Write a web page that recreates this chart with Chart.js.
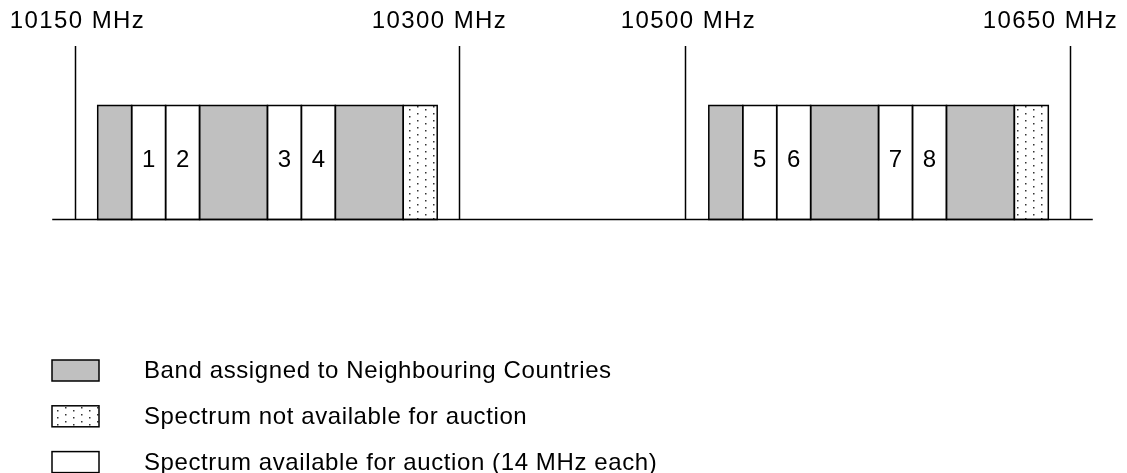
<!DOCTYPE html>
<html>
<head>
<meta charset="utf-8">
<script src="https://cdn.jsdelivr.net/npm/chart.js@4/dist/chart.umd.min.js"></script>
<style>
  html, body { margin: 0; padding: 0; background: #fff; }
  #wrap { width: 1127px; height: 473px; }
</style>
</head>
<body>
<div id="wrap"><canvas id="spectrum" width="1127" height="473"></canvas></div>
<script>
// x values are in "slots": one slot = one 14 MHz block (the drawing is schematic)
const blockStart = [0, 1, 2, 3, 5, 6, 7, 9, 18, 19, 20, 21, 23, 24, 25, 27];
const blockEnd   = [1, 2, 3, 5, 6, 7, 9, 10, 19, 20, 21, 23, 24, 25, 27, 28];
const blockType  = ['neighbour', 'auction', 'auction', 'neighbour', 'auction', 'auction', 'neighbour', 'reserved',
                    'neighbour', 'auction', 'auction', 'neighbour', 'auction', 'auction', 'neighbour', 'reserved'];
const blockLabel = ['', '1', '2', '', '3', '4', '', '', '', '5', '6', '', '7', '8', '', ''];

const markerPos   = [-0.67, 10.65, 17.3, 28.64];
const markerLabel = ['10150 MHz', '10300 MHz', '10500 MHz', '10650 MHz'];
const baselineFrom = -1.34, baselineTo = 29.31;

const legendTypes = ['neighbour', 'reserved', 'auction'];
const legendLabel = ['Band assigned to Neighbouring Countries',
                     'Spectrum not available for auction',
                     'Spectrum available for auction (14 MHz each)'];

const FONT = '"Liberation Sans", Arial, Helvetica, sans-serif';
// label nudges in px (the labels are not all centred on their line)
const labelShift = [2, -20, 3, -20];

function dotPattern(ctx) {
  const c = document.createElement('canvas');
  c.width = 16; c.height = 14;
  const g = c.getContext('2d');
  g.fillStyle = '#fff';
  g.fillRect(0, 0, 16, 14);
  g.fillStyle = '#333';
  g.fillRect(1, 1, 1.5, 1.5);
  g.fillRect(1, 8, 1.5, 1.5);
  g.fillRect(9, 4, 1.5, 1.5);
  g.fillRect(9, 11, 1.5, 1.5);
  return ctx.createPattern(c, 'repeat');
}

const canvas = document.getElementById('spectrum');
const ctx0 = canvas.getContext('2d');
const fills = {
  neighbour: '#c0c0c0',
  reserved: dotPattern(ctx0),
  auction: '#ffffff'
};

const datasets = legendTypes.map((t, k) => ({
  label: legendLabel[k],
  data: blockStart
    .map((s, i) => ({ x: [s, blockEnd[i]], y: 'band', n: blockLabel[i], t: blockType[i] }))
    .filter(d => d.t === t),
  backgroundColor: fills[t],
  borderWidth: 0,
  barThickness: 114,
  grouped: false
}));

const decor = {
  id: 'decor',
  afterDatasetsDraw(chart) {
    const ctx = chart.ctx;
    const xs = chart.scales.x;
    let bottom = 0;
    ctx.save();
    ctx.strokeStyle = '#000';
    ctx.lineWidth = 1.5;
    ctx.fillStyle = '#000';
    ctx.font = '24px ' + FONT;
    ctx.textAlign = 'center';
    ctx.textBaseline = 'alphabetic';
    chart.data.datasets.forEach((ds, di) => {
      chart.getDatasetMeta(di).data.forEach((el, i) => {
        const p = el.getProps(['x', 'y', 'base', 'height'], true);
        const left = Math.min(p.x, p.base), right = Math.max(p.x, p.base);
        const top = p.y - p.height / 2;
        bottom = p.y + p.height / 2;
        ctx.strokeRect(left, top, right - left, p.height);
        const n = ds.data[i].n;
        if (n) ctx.fillText(n, (left + right) / 2, p.y + 4);
      });
    });

    // baseline
    ctx.beginPath();
    ctx.moveTo(xs.getPixelForValue(baselineFrom), bottom);
    ctx.lineTo(xs.getPixelForValue(baselineTo), bottom);
    ctx.stroke();

    // frequency markers
    ctx.font = '24px ' + FONT;
    ctx.letterSpacing = '1.4px';
    markerPos.forEach((v, i) => {
      const px = Math.round(xs.getPixelForValue(v)) + 0.5;
      ctx.beginPath();
      ctx.moveTo(px, 46);
      ctx.lineTo(px, bottom);
      ctx.stroke();
      ctx.fillText(markerLabel[i], px + labelShift[i], 28);
    });

    // legend
    ctx.textAlign = 'left';
    ctx.textBaseline = 'alphabetic';
    ctx.font = '24px ' + FONT;
    ctx.letterSpacing = '0.6px';
    legendTypes.forEach((t, k) => {
      const base = 378 + k * 45.8;
      const cy = base - 8;
      ctx.fillStyle = fills[t];
      ctx.fillRect(52, cy - 10, 47, 21);
      ctx.lineWidth = 1.5;
      ctx.strokeRect(52, cy - 10, 47, 21);
      ctx.fillStyle = '#000';
      ctx.fillText(legendLabel[k], 144, base);
    });
    ctx.restore();
  }
};

new Chart(canvas, {
  type: 'bar',
  data: { labels: ['band'], datasets: datasets },
  options: {
    indexAxis: 'y',
    responsive: false,
    animation: false,
    layout: { padding: { left: 0, right: 0, top: 0, bottom: 148 } },
    scales: {
      x: { type: 'linear', min: -2.878, max: 30.318, display: false },
      y: { type: 'category', display: false }
    },
    plugins: {
      legend: { display: false },
      tooltip: { enabled: false }
    }
  },
  plugins: [decor]
});
</script>
</body>
</html>
